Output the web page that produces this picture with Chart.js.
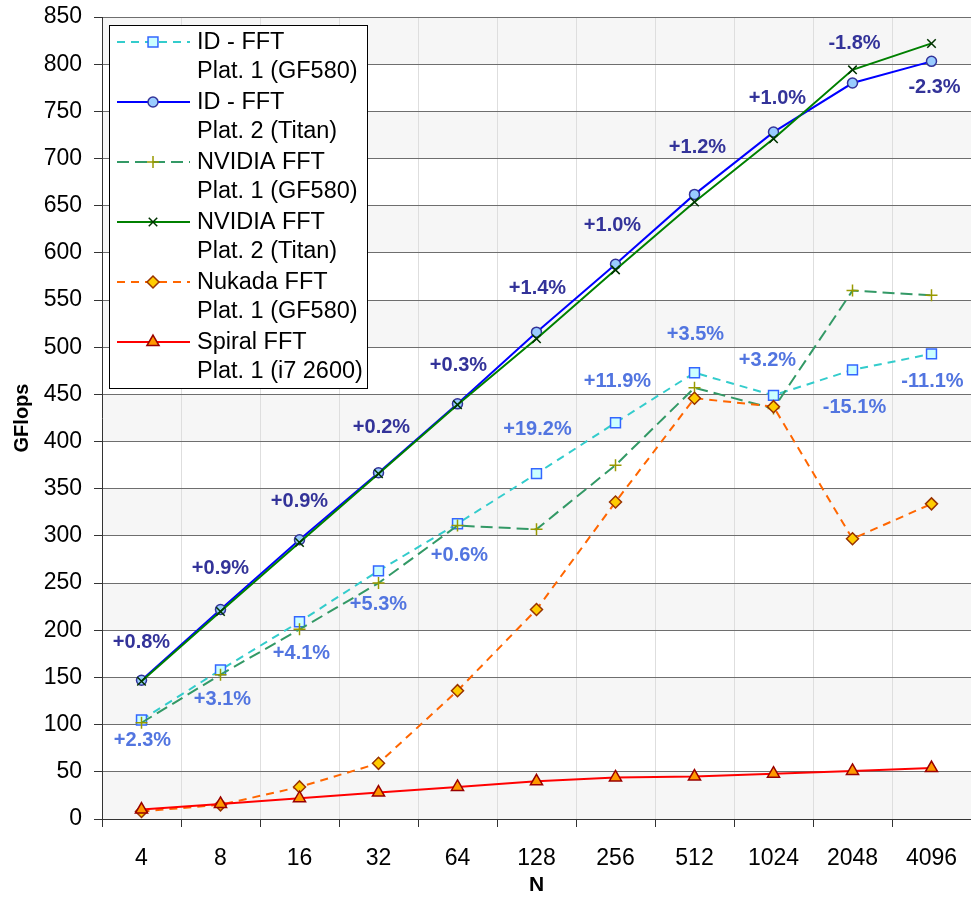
<!DOCTYPE html>
<html>
<head>
<meta charset="utf-8">
<title>FFT GFlops</title>
<script src="https://cdn.jsdelivr.net/npm/chart.js"></script>
<style>
  html, body { margin: 0; padding: 0; background: #fff; }
  canvas { display: block; }
</style>
</head>
<body>
<canvas id="chart-fft" width="971" height="900"></canvas>
<script>
// FFT size N
const sizes = ['4', '8', '16', '32', '64', '128', '256', '512', '1024', '2048', '4096'];

// GFlops per implementation
const idPlat1 = [105, 158, 209, 263, 313, 366, 420, 473, 449, 476, 493];
const idPlat2 = [147, 222, 296, 367, 440, 516, 588, 662, 728, 780, 803];
const nvidiaPlat1 = [102, 153, 201, 250, 311, 307, 375, 457, 435, 560, 555];
const nvidiaPlat2 = [146, 220, 293, 366, 439, 509, 582, 654, 721, 794, 822];
const nukadaPlat1 = [8, 15, 34, 59, 136, 222, 336, 446, 437, 297, 334];
const spiralPlat1 = [10, 16, 22, 28, 34, 40, 44, 45, 48, 51, 54];

// ID-FFT relative to NVIDIA FFT on the same platform
const diffTitan = ['+0.8%', '+0.9%', '+0.9%', '+0.2%', '+0.3%', '+1.4%', '+1.0%', '+1.2%', '+1.0%', '-1.8%', '-2.3%'];
const diffGF580 = ['+2.3%', '+3.1%', '+4.1%', '+5.3%', '+0.6%', '+19.2%', '+11.9%', '+3.5%', '+3.2%', '-15.1%', '-11.1%'];

const yTicks = { min: 0, max: 850, step: 50 };

const FONT = "'Liberation Sans', Arial, sans-serif";

// let the plot run right up to the canvas edge
const fullWidthPlugin = {
  id: 'fullWidth',
  afterLayout(chart) {
    const x = chart.scales.x;
    const right = chart.width;
    chart.chartArea.right = right;
    chart.chartArea.width = right - chart.chartArea.left;
    x.right = right;
    x.width = right - x.left;
    x.configure();
  }
};

// alternating grey bands behind the plot
const bandsPlugin = {
  id: 'bands',
  beforeDraw(chart) {
    const { ctx, chartArea: a, scales: { y } } = chart;
    ctx.save();
    ctx.fillStyle = '#ffffff';
    ctx.fillRect(0, 0, chart.width, chart.height);
    for (let v = yTicks.min, k = 0; v < yTicks.max; v += yTicks.step, k++) {
      ctx.fillStyle = k % 2 === 0 ? '#f6f6f6' : '#ffffff';
      const top = y.getPixelForValue(v + yTicks.step);
      const bottom = y.getPixelForValue(v);
      ctx.fillRect(a.left, top, a.right - a.left, bottom - top);
    }
    ctx.restore();
  }
};

// percentage notes next to the ID-FFT points
const notesPlugin = {
  id: 'notes',
  afterDatasetsDraw(chart, args, opts) {
    const { ctx } = chart;
    ctx.save();
    ctx.font = `bold 20px ${FONT}`;
    ctx.textAlign = 'center';
    ctx.textBaseline = 'middle';
    opts.groups.forEach(g => {
      const meta = chart.getDatasetMeta(g.dataset);
      ctx.fillStyle = g.color;
      g.texts.forEach((t, i) => {
        const pt = meta.data[i];
        const [dx, dy] = g.offsets[i];
        ctx.fillText(t, pt.x + dx, pt.y + dy);
      });
    });
    ctx.restore();
  }
};

// boxed legend with two-line entries
const boxLegendPlugin = {
  id: 'boxLegend',
  afterDraw(chart, args, o) {
    const { ctx } = chart;
    ctx.save();
    ctx.fillStyle = '#ffffff';
    ctx.fillRect(o.x, o.y, o.w, o.h);
    ctx.strokeStyle = '#000000';
    ctx.lineWidth = 1;
    ctx.strokeRect(o.x + 0.5, o.y + 0.5, o.w, o.h);
    ctx.font = `23.5px ${FONT}`;
    ctx.textBaseline = 'middle';
    ctx.textAlign = 'left';
    chart.data.datasets.forEach((ds, i) => {
      const yy = o.y + o.first + i * o.row;
      ctx.save();
      ctx.strokeStyle = ds.borderColor;
      ctx.lineWidth = ds.borderWidth;
      ctx.setLineDash(ds.borderDash || []);
      ctx.beginPath();
      ctx.moveTo(o.x + 8, yy);
      ctx.lineTo(o.x + 81, yy);
      ctx.stroke();
      ctx.restore();
      ctx.save();
      ctx.fillStyle = ds.pointBackgroundColor;
      ctx.strokeStyle = ds.pointBorderColor;
      ctx.lineWidth = ds.pointBorderWidth;
      Chart.helpers.drawPoint(ctx, {
        pointStyle: ds.pointStyle, radius: ds.pointRadius, borderWidth: ds.pointBorderWidth, rotation: 0
      }, o.x + 44, yy);
      ctx.restore();
      ctx.fillStyle = '#000000';
      ds.label.split('\n').forEach((line, j) => {
        ctx.fillText(line, o.x + 88, yy + 1 + j * o.line);
      });
    });
    ctx.restore();
  }
};

function series(label, data, color, dash, style, radius, fill, edge, order) {
  return {
    label, data, order,
    borderColor: color,
    borderWidth: 2,
    borderDash: dash,
    pointStyle: style,
    pointRadius: radius,
    pointHoverRadius: radius,
    pointBackgroundColor: fill,
    pointBorderColor: edge,
    pointBorderWidth: 1.5,
    tension: 0,
    fill: false
  };
}

new Chart(document.getElementById('chart-fft'), {
  type: 'line',
  data: {
    labels: sizes,
    datasets: [
      series('ID - FFT\nPlat. 1 (GF580)', idPlat1, '#33cccc', [8, 6], 'rect', 7, '#ccffff', '#3366ff', 6),
      series('ID - FFT\nPlat. 2 (Titan)', idPlat2, '#0000ff', [], 'circle', 5, '#99ccff', '#333399', 5),
      series('NVIDIA FFT\nPlat. 1 (GF580)', nvidiaPlat1, '#339966', [12, 6], 'cross', 6, '#999900', '#999900', 4),
      series('NVIDIA FFT\nPlat. 2 (Titan)', nvidiaPlat2, '#008000', [], 'crossRot', 6, '#003300', '#003300', 3),
      series('Nukada FFT\nPlat. 1 (GF580)', nukadaPlat1, '#ff6600', [8, 6], 'rectRot', 6, '#ffcc00', '#993300', 2),
      series('Spiral FFT\nPlat. 1 (i7 2600)', spiralPlat1, '#ff0000', [], 'triangle', 7, '#ff9900', '#990000', 1)
    ]
  },
  options: {
    responsive: false,
    animation: false,
    layout: { padding: { top: 17, right: 0, left: 0, bottom: 0 } },
    plugins: {
      legend: { display: false },
      tooltip: { enabled: false },
      notes: {
        groups: [
          {
            dataset: 1, color: '#333399', texts: diffTitan,
            offsets: [[0, -38], [0, -41], [0, -38], [3, -45], [1, -38], [1, -44], [-3, -39], [3, -47], [4, -34], [2, -40], [3, 26]]
          },
          {
            dataset: 0, color: '#5275e0', texts: diffGF580,
            offsets: [[1, 21], [2, 30], [2, 32], [0, 34], [2, 32], [1, -44], [2, -41], [1, -38], [-6, -35], [2, 38], [1, 28]]
          }
        ]
      },
      boxLegend: { x: 109, y: 25, w: 258, h: 363, first: 17, row: 60, line: 29 }
    },
    scales: {
      x: {
        offset: true,
        grid: { offset: true, color: '#dedede', tickColor: '#333333', tickLength: 8, lineWidth: 1 },
        border: { color: '#333333', width: 1 },
        ticks: { color: '#000000', font: { family: FONT, size: 23 }, padding: 18, maxRotation: 0 },
        title: { display: true, text: 'N', color: '#000000', font: { family: FONT, size: 21, weight: 'bold' }, padding: { top: 0, bottom: 2 } },
        afterFit(scale) {
          scale.height = 81;
          scale.paddingLeft = 0;
          scale.paddingRight = 0;
        }
      },
      y: {
        min: yTicks.min,
        max: yTicks.max,
        grid: { color: '#6e6e6e', tickColor: '#333333', tickLength: 8, lineWidth: 1 },
        border: { color: '#333333', width: 1 },
        ticks: { stepSize: yTicks.step, color: '#000000', font: { family: FONT, size: 23 }, padding: 12 },
        title: { display: true, text: 'GFlops', color: '#000000', font: { family: FONT, size: 20, weight: 'bold' }, padding: { top: 10, bottom: 0 } },
        afterFit(scale) {
          scale.width = 102;
          scale.paddingTop = 0;
          scale.paddingBottom = 0;
        }
      }
    }
  },
  plugins: [fullWidthPlugin, bandsPlugin, notesPlugin, boxLegendPlugin]
});
</script>
</body>
</html>
